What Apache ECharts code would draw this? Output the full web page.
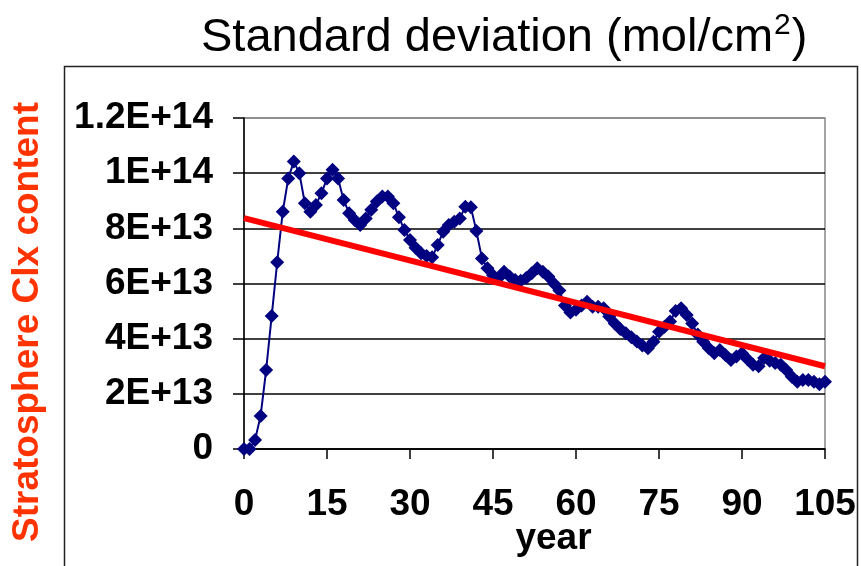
<!DOCTYPE html>
<html>
<head>
<meta charset="utf-8">
<script src="https://cdn.jsdelivr.net/npm/echarts@6/dist/echarts.min.js"></script>
<style>
  html, body { margin: 0; padding: 0; background: #fff; }
  #chart { width: 861px; height: 566px; }
</style>
</head>
<body>
<div id="chart"></div>
<script>
// Yearly standard deviation of stratospheric Clx column (mol/cm2)
const years = [];
for (let y = 0; y <= 105; y++) years.push(y);

const stdDevE13 = [
  0, 0, 0.33, 1.2, 2.86, 4.82, 6.77, 8.6, 9.81, 10.42,
  10.0, 8.91, 8.6, 8.85, 9.27, 9.81, 10.12, 9.81, 9.03, 8.55,
  8.3, 8.12, 8.36, 8.67, 8.97, 9.15, 9.15, 8.91, 8.4, 7.94,
  7.58, 7.3, 7.1, 7.0, 6.95, 7.4, 7.88, 8.12, 8.24, 8.36,
  8.78, 8.76, 7.9, 6.91, 6.55, 6.3, 6.2, 6.43, 6.25, 6.13,
  6.1, 6.2, 6.37, 6.55, 6.43, 6.25, 6.0, 5.75, 5.2, 4.95,
  5.05, 5.2, 5.34, 5.16, 5.16, 5.1, 4.8, 4.55, 4.35, 4.2,
  4.05, 3.9, 3.75, 3.65, 3.89, 4.25, 4.43, 4.62, 5.0, 5.1,
  4.86, 4.55, 4.15, 3.89, 3.65, 3.47, 3.59, 3.41, 3.23, 3.35,
  3.47, 3.25, 3.05, 3.0, 3.3, 3.2, 3.12, 3.05, 2.86, 2.62,
  2.44, 2.5, 2.5, 2.44, 2.35, 2.44
];

// Linear trend line end points
const trendYears = [0, 105];
const trendValues = [8.37e13, 3.0e13];

// Tick labels of the value axis, one per 2E+13 step
const yTickLabels = ['0', '2E+13', '4E+13', '6E+13', '8E+13', '1E+14', '1.2E+14'];

const FONT = '"Liberation Sans", Arial, sans-serif';

const stdDevData = years.map((y, i) => [y, stdDevE13[i] * 1e13]);
const trendData = trendYears.map((y, i) => [y, trendValues[i]]);

const chart = echarts.init(document.getElementById('chart'), null, { renderer: 'canvas' });

chart.setOption({
  animation: false,
  backgroundColor: '#ffffff',
  title: {
    text: '{m|Standard deviation (mol/cm}{sup|2}{m|)}',
    left: 196,
    top: 6,
    textStyle: {
      fontFamily: FONT, fontSize: 47, fontWeight: 'normal', color: '#000',
      rich: {
        m: { fontFamily: FONT, fontSize: 47, color: '#000', lineHeight: 54 },
        sup: { fontFamily: FONT, fontSize: 30, color: '#000', lineHeight: 54, verticalAlign: 'top', padding: [0, 1, 0, 1] }
      }
    }
  },
  graphic: [
    {
      type: 'rect',
      shape: { x: 64.5, y: 66.5, width: 793, height: 540 },
      style: { fill: 'none', stroke: '#222', lineWidth: 1.5 },
      silent: true,
      z: -10
    },
    {
      type: 'text',
      x: 28,
      y: 322,
      rotation: Math.PI / 2,
      style: {
        text: 'Stratosphere Clx content',
        fontFamily: FONT,
        fontSize: 37,
        fontWeight: 'bold',
        fill: '#ff3300',
        align: 'center',
        verticalAlign: 'middle'
      }
    }
  ],
  grid: {
    left: 244,
    top: 118,
    width: 581,
    height: 331,
    show: true,
    borderColor: '#888',
    borderWidth: 1.5,
    containLabel: false,
    outerBoundsMode: 'none'
  },
  xAxis: {
    type: 'value',
    min: 0,
    max: 105,
    interval: 15,
    name: 'year',
    nameLocation: 'middle',
    nameGap: 71,
    nameMoveOverlap: false,
    nameTextStyle: {
      fontFamily: FONT, fontSize: 37, fontWeight: 'bold', color: '#000',
      padding: [0, 0, 0, 38]
    },
    axisLine: { show: true, onZero: false, lineStyle: { color: '#000', width: 1.5 } },
    axisTick: { show: true, inside: false, length: 10, lineStyle: { color: '#000', width: 1.5 } },
    axisLabel: {
      margin: 37,
      fontFamily: FONT, fontSize: 37, fontWeight: 'bold', color: '#000'
    },
    splitLine: { show: false }
  },
  yAxis: {
    type: 'value',
    min: 0,
    max: 1.2e14,
    interval: 2e13,
    axisLine: { show: true, lineStyle: { color: '#000', width: 1.5 } },
    axisTick: { show: true, inside: false, length: 11, lineStyle: { color: '#000', width: 1.5 } },
    axisLabel: {
      margin: 31,
      fontFamily: FONT, fontSize: 37, fontWeight: 'bold', color: '#000',
      formatter: (v) => yTickLabels[Math.round(v / 2e13)]
    },
    splitLine: {
      show: true,
      lineStyle: { color: ['#000', '#000', '#000', '#000', '#000', '#000', '#888'], width: 1.5 }
    }
  },
  series: [
    {
      name: 'Standard deviation',
      type: 'line',
      data: stdDevData,
      symbol: 'diamond',
      symbolSize: 14,
      showSymbol: true,
      lineStyle: { color: '#000080', width: 2 },
      itemStyle: { color: '#000080', borderWidth: 0 },
      z: 2
    },
    {
      name: 'Trend',
      type: 'line',
      data: trendData,
      symbol: 'none',
      lineStyle: { color: '#ff0000', width: 6 },
      z: 3
    }
  ]
});
</script>
</body>
</html>
